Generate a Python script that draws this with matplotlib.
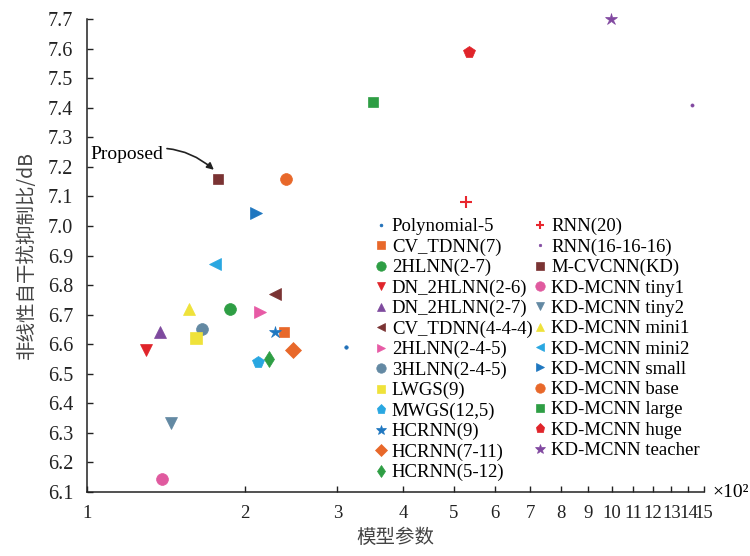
import matplotlib
matplotlib.use("Agg")
import matplotlib.pyplot as plt
from matplotlib.lines import Line2D

plt.rcParams['font.family'] = ['Liberation Serif', 'DejaVu Serif']

# model names, parameter count (x100), nonlinear SI cancellation (dB)
names = ['Polynomial-5', 'CV_TDNN(7)', '2HLNN(2-7)', 'DN_2HLNN(2-6)', 'DN_2HLNN(2-7)',
         'CV_TDNN(4-4-4)', '2HLNN(2-4-5)', '3HLNN(2-4-5)', 'LWGS(9)', 'MWGS(12,5)',
         'HCRNN(9)', 'HCRNN(7-11)', 'HCRNN(5-12)',
         'RNN(20)', 'RNN(16-16-16)', 'M-CVCNN(KD)', 'KD-MCNN tiny1', 'KD-MCNN tiny2',
         'KD-MCNN mini1', 'KD-MCNN mini2', 'KD-MCNN small', 'KD-MCNN base',
         'KD-MCNN large', 'KD-MCNN huge', 'KD-MCNN teacher']
params = [3.11, 2.37, 1.87, 1.295, 1.377,
          2.28, 2.14, 1.656, 1.613, 2.117,
          2.28, 2.47, 2.22,
          5.27, 14.2, 1.777, 1.39, 1.445,
          1.564, 1.753, 2.10, 2.40,
          3.51, 5.34, 9.96]
cancel = [6.59, 6.64, 6.72, 6.58, 6.64,
          6.77, 6.71, 6.65, 6.62, 6.54,
          6.64, 6.58, 6.55,
          7.08, 7.41, 7.16, 6.145, 6.333,
          6.72, 6.87, 7.045, 7.16,
          7.42, 7.59, 7.70]

markers = ['.', 's', 'o', 'v', '^', '<', '>', 'o', 's', 'p', '*', 'D', 'd',
           '+', '.', 's', 'o', 'v', '^', '<', '>', 'o', 's', 'p', '*']
colors = ['#1f6fb8', '#e8682a', '#2e9e44', '#e0242a', '#7e4a9e',
          '#7a3333', '#e75aa5', '#6389a3', '#efe23a', '#29a7e1',
          '#1f77c0', '#e8682a', '#2e9e44',
          '#e8262e', '#8148a0', '#7a3333', '#e05a9f', '#6389a3',
          '#efe23a', '#29a7e1', '#1f77c0', '#e8682a',
          '#2e9e44', '#e0242a', '#8148a0']
sizes = [5, 7.5, 8.5, 8, 8, 8, 8, 8.5, 8, 8.5, 9, 8, 8,
         8, 4.5, 7.5, 8.5, 8, 8, 8, 8, 8.5, 7.5, 8.5, 9]

xticks = [1, 2, 3, 4, 5, 6, 7, 8, 9, 10, 11, 12, 13, 14, 15]
yticks = [6.1, 6.2, 6.3, 6.4, 6.5, 6.6, 6.7, 6.8, 6.9, 7.0, 7.1, 7.2, 7.3, 7.4, 7.5, 7.6, 7.7]

fig = plt.figure(figsize=(7.5, 5.56), dpi=100)
ax = fig.add_axes([0.116, 0.1151, 0.8227, 0.8507])

handles = {}
for i in range(len(names)):
    h, = ax.plot(params[i], cancel[i], linestyle='none', marker=markers[i],
                 ms=sizes[i], color=colors[i], mew=1.5 if markers[i] == '+' else 0.5,
                 label=names[i], clip_on=False)
    handles[names[i]] = h

ax.set_xscale('log')
ax.set_xlim(1, 15)
ax.set_ylim(6.1, 7.7)
ax.set_xticks(xticks)
ax.set_xticklabels([str(t) for t in xticks])
ax.xaxis.set_minor_locator(matplotlib.ticker.NullLocator())
ax.set_yticks(yticks)
ax.set_yticklabels(['%.1f' % t for t in yticks])
ax.tick_params(direction='in', length=4, width=1, colors='#222222')
ax.tick_params(axis='x', pad=9, labelsize=13.5)
ax.tick_params(axis='y', pad=10, labelsize=14.5)
ax.spines['top'].set_visible(False)
ax.spines['right'].set_visible(False)
for s in ['left', 'bottom']:
    ax.spines[s].set_linewidth(1.1)
    ax.spines[s].set_color('#222222')

ax.set_xlabel('模型参数', family=['Noto Sans CJK SC', 'DejaVu Sans'], fontsize=14,
              color='#444444', labelpad=4)
ax.set_ylabel('非线性自干扰抑制比/dB', family=['Noto Sans CJK SC', 'DejaVu Sans'],
              fontsize=14, color='#444444', labelpad=8)
ax.text(1.013, 0.0, '×10²', transform=ax.transAxes, fontsize=14, va='center', ha='left')

ax.annotate('Proposed', xy=(1.745, 7.19), xytext=(1.013, 7.24), fontsize=14,
            va='center', ha='left',
            arrowprops=dict(arrowstyle='-|>', connectionstyle='arc3,rad=-0.3',
                            color='#222222', lw=1.2, shrinkA=1, shrinkB=0,
                            mutation_scale=10))

# two legend columns: 13 + 12 entries
col1 = ['Polynomial-5', 'CV_TDNN(7)', '2HLNN(2-7)', 'DN_2HLNN(2-6)', 'DN_2HLNN(2-7)',
        'CV_TDNN(4-4-4)', '2HLNN(2-4-5)', '3HLNN(2-4-5)', 'LWGS(9)', 'MWGS(12,5)',
        'HCRNN(9)', 'HCRNN(7-11)', 'HCRNN(5-12)']
col2 = ['RNN(20)', 'RNN(16-16-16)', 'M-CVCNN(KD)', 'KD-MCNN tiny1', 'KD-MCNN tiny2',
        'KD-MCNN mini1', 'KD-MCNN mini2', 'KD-MCNN small', 'KD-MCNN base',
        'KD-MCNN large', 'KD-MCNN huge', 'KD-MCNN teacher']
blank = Line2D([], [], linestyle='none')
h_list = [handles[n] for n in col1] + [handles[n] for n in col2] + [blank]
l_list = col1 + col2 + ['']
ax.legend(h_list, l_list, ncol=2, loc='upper left', bbox_to_anchor=(375 / 750, 1 - 218 / 556),
          bbox_transform=fig.transFigure, frameon=False, fontsize=13.5, markerscale=0.8,
          handlelength=0.6, handletextpad=0.3, columnspacing=0.1, labelspacing=0.17,
          borderpad=0, borderaxespad=0)

fig.savefig('out.png', dpi=100)
